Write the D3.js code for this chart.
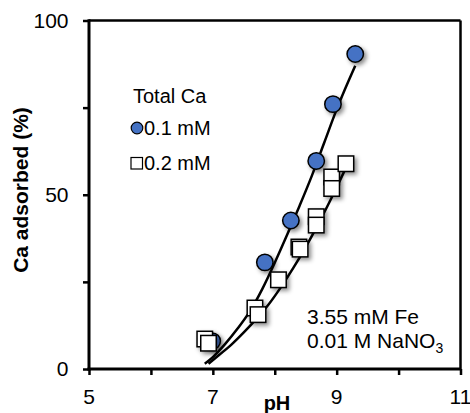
<!DOCTYPE html>
<html>
<head>
<meta charset="utf-8">
<script src="https://cdn.jsdelivr.net/npm/d3@7/dist/d3.min.js"></script>
<style>
  html, body { margin: 0; padding: 0; background: #fff; }
  svg { display: block; font-family: "Liberation Sans", Arial, sans-serif; }
</style>
</head>
<body>
<svg id="chart" width="470" height="413"></svg>
<script>
// Measured Ca adsorption, 0.1 mM total Ca
const pH01 = [6.99, 7.84, 8.26, 8.67, 8.94, 9.30];
const ads01 = [8.0, 30.6, 42.6, 59.7, 76.0, 90.4];

// Measured Ca adsorption, 0.2 mM total Ca
const pH02 = [6.87, 6.93, 7.68, 7.73, 8.06, 8.39, 8.41, 8.67, 8.67, 8.92, 8.92, 9.15];
const ads02 = [8.6, 7.4, 17.5, 15.6, 25.6, 35.0, 34.4, 43.7, 41.3, 55.1, 51.8, 58.9];

// Model curves
const fitPH01 = [6.87, 7.0, 7.2, 7.4, 7.6, 7.8, 8.0, 8.2, 8.4, 8.6, 8.8, 9.0, 9.2, 9.30];
const fitAds01 = [1.5, 3.4, 7.2, 11.6, 16.6, 23.0, 30.5, 38.5, 46.8, 55.5, 65.0, 74.5, 83.0, 87.0];
const fitPH02 = [6.93, 7.1, 7.3, 7.5, 7.7, 7.9, 8.1, 8.3, 8.5, 8.7, 8.9, 9.13];
const fitAds02 = [1.5, 4.0, 7.0, 10.5, 14.3, 18.5, 23.5, 29.0, 35.0, 41.5, 48.5, 57.0];

// Axis ticks
const xMajor = [5, 7, 9, 11];
const xMinor = [6, 8, 10];
const yMajor = [0, 50, 100];
const yMinor = [25, 75];

const svg = d3.select("#chart");

const x = d3.scaleLinear().domain([5, 11]).range([89, 460.5]);
const y = d3.scaleLinear().domain([0, 100]).range([369, 20.5]);

// soft drop shadow for data markers
const defs = svg.append("defs");
const f = defs.append("filter").attr("id", "shadow")
  .attr("x", "-50%").attr("y", "-50%").attr("width", "220%").attr("height", "220%");
f.append("feDropShadow").attr("dx", 2.5).attr("dy", 2.5)
  .attr("stdDeviation", 2).attr("flood-color", "#000").attr("flood-opacity", 0.45);

// plot frame (top & right)
svg.append("line").attr("x1", x(5)).attr("x2", x(11)).attr("y1", y(100)).attr("y2", y(100))
  .attr("stroke", "#000").attr("stroke-width", 2.5);
svg.append("line").attr("x1", x(11)).attr("x2", x(11)).attr("y1", y(100)).attr("y2", y(0))
  .attr("stroke", "#000").attr("stroke-width", 2.5);

// x axis
const xAxis = svg.append("g").attr("transform", `translate(0,${y(0)})`);
xAxis.call(d3.axisBottom(x).tickValues(xMajor.concat(xMinor)).tickSize(6).tickFormat(""));
xAxis.select(".domain").attr("stroke-width", 3).attr("d", `M${x(5) - 1.5},0H${x(11)}`);
xAxis.selectAll(".tick line").attr("stroke-width", 2.5);
xAxis.selectAll(".tick text").remove();

svg.append("g").selectAll("text").data(xMajor).join("text")
  .attr("x", d => x(d)).attr("y", 404)
  .attr("text-anchor", "middle").attr("font-size", 21).attr("fill", "#000")
  .text(d => d);

// y axis
const yAxis = svg.append("g").attr("transform", `translate(${x(5)},0)`);
yAxis.call(d3.axisLeft(y).tickValues(yMajor.concat(yMinor)).tickSize(6).tickFormat(""));
yAxis.select(".domain").attr("stroke-width", 3).attr("d", `M0,${y(0) + 1.5}V${y(100) - 1.2}`);
yAxis.selectAll(".tick line").attr("stroke-width", 2.5);

svg.append("g").selectAll("text").data(yMajor).join("text")
  .attr("x", 68.5).attr("y", d => y(d)).attr("dy", "0.35em")
  .attr("text-anchor", "end").attr("font-size", 21).attr("fill", "#000")
  .text(d => d);

// axis titles
svg.append("text").attr("x", 277).attr("y", 410)
  .attr("text-anchor", "middle").attr("font-size", 20).attr("font-weight", "bold")
  .text("pH");
svg.append("text")
  .attr("transform", `translate(28,190) rotate(-90)`)
  .attr("text-anchor", "middle").attr("font-size", 21).attr("font-weight", "bold")
  .text("Ca adsorbed (%)");

// model curves
const line = d3.line().x(d => x(d[0])).y(d => y(d[1])).curve(d3.curveMonotoneX);
svg.append("path").datum(d3.zip(fitPH01, fitAds01)).attr("d", line)
  .attr("fill", "none").attr("stroke", "#000").attr("stroke-width", 2.5);
svg.append("path").datum(d3.zip(fitPH02, fitAds02)).attr("d", line)
  .attr("fill", "none").attr("stroke", "#000").attr("stroke-width", 2.5);

// data markers
svg.append("g").attr("filter", "url(#shadow)")
  .selectAll("circle").data(d3.zip(pH01, ads01)).join("circle")
  .attr("cx", d => x(d[0])).attr("cy", d => y(d[1])).attr("r", 8.2)
  .attr("fill", "#4472C4").attr("stroke", "#000").attr("stroke-width", 1.5);

const sq = 15.5;
svg.append("g").attr("filter", "url(#shadow)")
  .selectAll("rect").data(d3.zip(pH02, ads02)).join("rect")
  .attr("x", d => x(d[0]) - sq / 2).attr("y", d => y(d[1]) - sq / 2)
  .attr("width", sq).attr("height", sq)
  .attr("fill", "#fff").attr("stroke", "#000").attr("stroke-width", 1.5);

// legend
const lg = svg.append("g");
lg.append("text").attr("x", 133).attr("y", 103).attr("font-size", 20).text("Total Ca");
lg.append("circle").attr("cx", 137).attr("cy", 128).attr("r", 5.8)
  .attr("fill", "#4472C4").attr("stroke", "#000").attr("stroke-width", 1.2);
lg.append("text").attr("x", 144).attr("y", 135).attr("font-size", 20).text("0.1 mM");
lg.append("rect").attr("x", 131).attr("y", 157.5).attr("width", 11.5).attr("height", 11.5)
  .attr("fill", "#fff").attr("stroke", "#000").attr("stroke-width", 1.2);
lg.append("text").attr("x", 144).attr("y", 170).attr("font-size", 20).text("0.2 mM");

// experimental conditions
const note = svg.append("g").attr("font-size", 21);
note.append("text").attr("x", 307).attr("y", 324).text("3.55 mM Fe");
const t2 = note.append("text").attr("x", 307).attr("y", 348);
t2.append("tspan").text("0.01 M NaNO");
t2.append("tspan").attr("font-size", 14).attr("dy", 5).text("3");
</script>
</body>
</html>
